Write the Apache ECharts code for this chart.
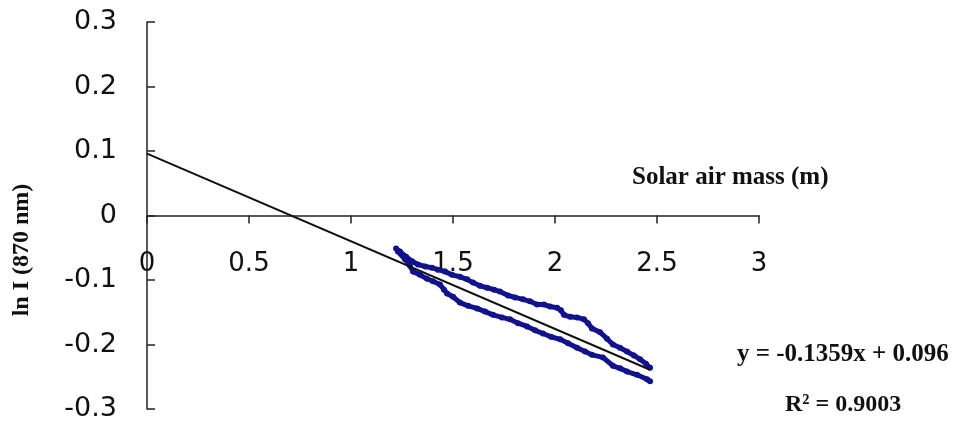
<!DOCTYPE html>
<html>
<head>
<meta charset="utf-8">
<script src="https://cdn.jsdelivr.net/npm/echarts@6/dist/echarts.min.js"></script>
<style>
  html, body { margin: 0; padding: 0; background: #ffffff; }
  #chart { width: 956px; height: 421px; }
</style>
</head>
<body>
<div id="chart"></div>
<script>
// Axis ticks
const xTicks = [0, 0.5, 1, 1.5, 2, 2.5, 3];
const yTicks = [-0.3, -0.2, -0.1, 0, 0.1, 0.2, 0.3];

// Measurements, branch with the higher readings: [air mass, ln I]
const upperBranch = [
  [1.221, -0.051], [1.240, -0.056], [1.270, -0.064], [1.299, -0.071], [1.328, -0.076],
  [1.363, -0.079], [1.397, -0.081], [1.426, -0.084], [1.461, -0.087], [1.495, -0.092],
  [1.534, -0.095], [1.569, -0.099], [1.598, -0.104], [1.632, -0.109], [1.667, -0.112],
  [1.701, -0.115], [1.730, -0.118], [1.770, -0.124], [1.804, -0.127], [1.843, -0.130],
  [1.877, -0.133], [1.912, -0.138], [1.946, -0.138], [1.975, -0.141], [2.010, -0.143],
  [2.029, -0.147], [2.044, -0.154], [2.074, -0.157], [2.108, -0.158], [2.142, -0.161],
  [2.162, -0.167], [2.181, -0.175], [2.221, -0.181], [2.255, -0.191], [2.284, -0.200],
  [2.319, -0.205], [2.353, -0.211], [2.387, -0.217], [2.417, -0.223], [2.446, -0.230],
  [2.466, -0.236]
];

// Measurements, branch with the lower readings: [air mass, ln I]
const lowerBranch = [
  [1.230, -0.056], [1.265, -0.068], [1.289, -0.078], [1.304, -0.087], [1.338, -0.092],
  [1.373, -0.098], [1.402, -0.102], [1.436, -0.107], [1.456, -0.115], [1.471, -0.121],
  [1.500, -0.126], [1.534, -0.135], [1.574, -0.140], [1.618, -0.144], [1.657, -0.149],
  [1.696, -0.154], [1.740, -0.158], [1.779, -0.161], [1.819, -0.167], [1.863, -0.172],
  [1.902, -0.178], [1.941, -0.183], [1.980, -0.188], [2.025, -0.192], [2.064, -0.198],
  [2.108, -0.205], [2.147, -0.211], [2.181, -0.216], [2.235, -0.220], [2.284, -0.233],
  [2.319, -0.237], [2.353, -0.242], [2.402, -0.247], [2.451, -0.254], [2.466, -0.257]
];

// Linear fit y = slope * x + intercept, drawn over the fitted range
const fitSlope = -0.1359;
const fitIntercept = 0.096;
const fitRange = [0, 2.466];
const fitR2 = 0.9003;

const fitLine = fitRange.map(x => [x, fitSlope * x + fitIntercept]);
const fmt = v => String(+v.toFixed(1));

const serifBold = { fontFamily: '"Liberation Serif", "Times New Roman", serif', fontWeight: 'bold', fill: '#111' };
const markColor = '#12128c';

// Plot area, in pixels
const gridTop = 22;
const gridBottom = 12;
const gridHeight = 421 - gridTop - gridBottom;

const chart = echarts.init(document.getElementById('chart'), null, { renderer: 'canvas' });
chart.setOption({
  backgroundColor: '#ffffff',
  animation: false,
  grid: { left: 147, right: 197, top: gridTop, bottom: gridBottom, containLabel: false, outerBoundsMode: 'none' },
  xAxis: {
    type: 'value',
    min: xTicks[0],
    max: xTicks[xTicks.length - 1],
    interval: 0.5,
    // the horizontal axis runs through ln I = 0, halfway up the symmetric y range
    offset: -gridHeight / 2,
    axisLine: { onZero: false, lineStyle: { color: '#222', width: 1.5 } },
    axisTick: { show: true, inside: false, length: 8, lineStyle: { color: '#222', width: 1.5 } },
    axisLabel: {
      margin: 36,
      fontFamily: '"DejaVu Sans", sans-serif',
      fontSize: 26,
      color: '#111',
      formatter: fmt
    },
    splitLine: { show: false }
  },
  yAxis: {
    type: 'value',
    min: yTicks[0],
    max: yTicks[yTicks.length - 1],
    interval: 0.1,
    axisLine: { show: true, onZero: false, lineStyle: { color: '#222', width: 1.5 } },
    axisTick: { show: true, inside: true, length: 8, lineStyle: { color: '#222', width: 1.5 } },
    axisLabel: {
      margin: 30,
      fontFamily: '"DejaVu Sans", sans-serif',
      fontSize: 27,
      color: '#111',
      formatter: fmt
    },
    splitLine: { show: false }
  },
  series: [
    {
      type: 'line',
      data: upperBranch,
      showSymbol: true,
      symbol: 'circle',
      symbolSize: 6,
      itemStyle: { color: markColor },
      lineStyle: { color: markColor, width: 5 },
      z: 2
    },
    {
      type: 'line',
      data: lowerBranch,
      showSymbol: true,
      symbol: 'circle',
      symbolSize: 6,
      itemStyle: { color: markColor },
      lineStyle: { color: markColor, width: 5 },
      z: 2
    },
    {
      type: 'line',
      data: fitLine,
      showSymbol: false,
      lineStyle: { color: '#111', width: 2 },
      z: 3
    }
  ],
  graphic: [
    {
      type: 'text', x: 22, y: 250, rotation: Math.PI / 2,
      style: Object.assign({ text: 'ln I (870 nm)', fontSize: 24, align: 'center', verticalAlign: 'middle' }, serifBold)
    },
    {
      type: 'text', x: 632, y: 178,
      style: Object.assign({ text: 'Solar air mass (m)', fontSize: 25, align: 'left', verticalAlign: 'middle' }, serifBold)
    },
    {
      type: 'text', x: 737, y: 355,
      style: Object.assign({ text: 'y = ' + fitSlope + 'x + ' + fitIntercept, fontSize: 25, align: 'left', verticalAlign: 'middle' }, serifBold)
    },
    {
      type: 'text', x: 785, y: 405,
      style: Object.assign({ text: 'R\u00b2 = ' + fitR2, fontSize: 24, align: 'left', verticalAlign: 'middle' }, serifBold)
    }
  ]
});
</script>
</body>
</html>
